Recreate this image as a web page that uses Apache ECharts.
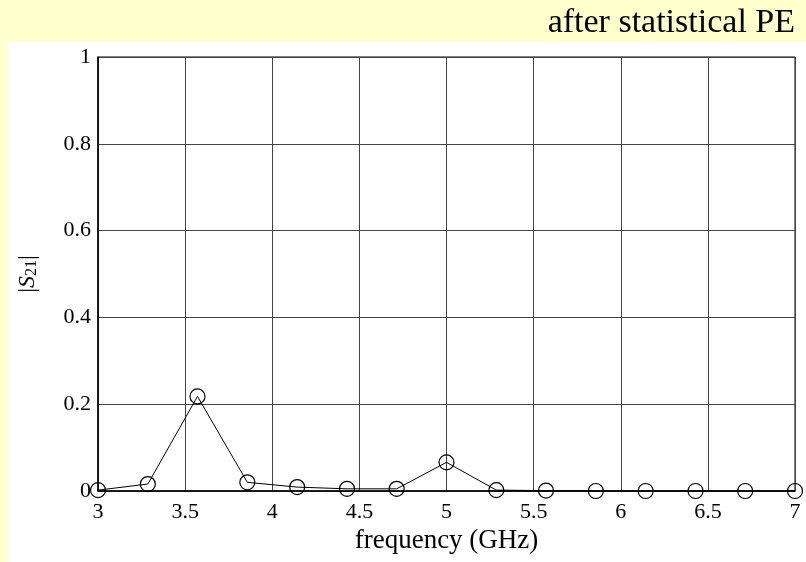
<!DOCTYPE html>
<html>
<head>
<meta charset="utf-8">
<script src="https://cdn.jsdelivr.net/npm/echarts@6/dist/echarts.min.js"></script>
<style>
html,body{margin:0;padding:0;background:#ffffcc;}
#main{width:806px;height:562px;}
</style>
</head>
<body>
<div id="main"></div>
<script>
// frequency points (GHz) and |S21|
var freq = [3, 3.286, 3.571, 3.857, 4.143, 4.429, 4.714, 5, 5.286, 5.571, 5.857, 6.143, 6.429, 6.714, 7];
var s21 = [0.002, 0.016, 0.218, 0.02, 0.009, 0.005, 0.005, 0.066, 0.002, 0.001, 0, 0, 0, 0, 0];
var titleText = 'after statistical PE';
var xName = 'frequency (GHz)';

var FONT = '"Liberation Serif", "Times New Roman", serif';
var myChart = echarts.init(document.getElementById('main'));

var pts = [];
for (var i = 0; i < freq.length; i++) {
    pts.push([freq[i], s21[i]]);
}

var option = {
    backgroundColor: '#ffffcc',
    animation: false,
    graphic: [{
        type: 'rect',
        left: 8, top: 41,
        shape: {width: 798, height: 521},
        style: {fill: '#ffffff'},
        z: -10,
        silent: true
    }],
    title: {
        text: titleText,
        right: 6,
        top: 1,
        textStyle: {fontFamily: FONT, fontSize: 34, fontWeight: 'normal', color: '#000'}
    },
    grid: {
        left: 98, right: 11, top: 57, bottom: 71,
        show: true,
        borderColor: '#000',
        borderWidth: 1,
        backgroundColor: 'transparent'
    },
    xAxis: {
        type: 'value',
        min: 3, max: 7, interval: 0.5,
        name: xName,
        nameLocation: 'middle',
        nameGap: 31,
        nameTextStyle: {fontFamily: FONT, fontSize: 27, color: '#000'},
        axisLine: {lineStyle: {color: '#000', width: 1.5}},
        axisTick: {show: false},
        axisLabel: {fontFamily: FONT, fontSize: 22, color: '#000', margin: 10},
        splitLine: {lineStyle: {color: '#444', width: 1}}
    },
    yAxis: {
        type: 'value',
        min: 0, max: 1, interval: 0.2,
        name: '|{i|S}{sub|21}|',
        nameLocation: 'middle',
        nameRotate: 90,
        nameGap: 58,
        nameTextStyle: {
            fontFamily: FONT, fontSize: 24, color: '#000',
            rich: {
                i: {fontFamily: FONT, fontSize: 24, fontStyle: 'italic', color: '#000'},
                sub: {fontFamily: FONT, fontSize: 16, color: '#000', verticalAlign: 'bottom', padding: [8, 0, 0, 0]}
            }
        },
        axisLine: {show: true, lineStyle: {color: '#000', width: 1.5}},
        axisTick: {show: false},
        axisLabel: {fontFamily: FONT, fontSize: 22, color: '#000', margin: 7},
        splitLine: {lineStyle: {color: '#444', width: 1}}
    },
    series: [{
        type: 'line',
        data: pts,
        symbol: 'circle',
        symbolSize: 15,
        showAllSymbol: true,
        clip: false,
        lineStyle: {color: '#000', width: 1},
        itemStyle: {color: 'rgba(0,0,0,0)', borderColor: '#000', borderWidth: 1.2}
    }]
};
myChart.setOption(option);
</script>
</body>
</html>
